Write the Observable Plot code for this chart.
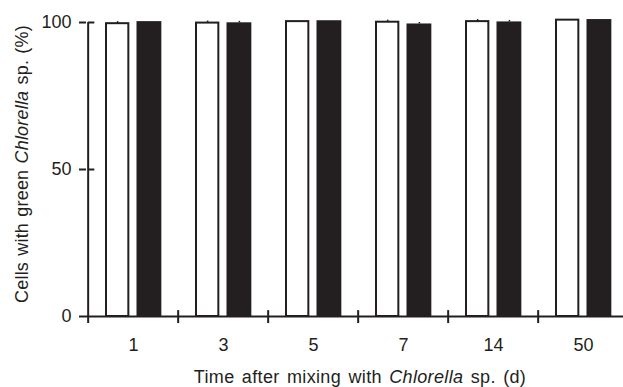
<!DOCTYPE html>
<html>
<head>
<meta charset="utf-8">
<script src="https://cdn.jsdelivr.net/npm/d3@7"></script>
<script src="https://cdn.jsdelivr.net/npm/@observablehq/plot@0.6"></script>
<style>
  html, body { margin: 0; padding: 0; background: #fff; overflow: hidden; }
  #chart svg { display: block; }
</style>
</head>
<body>
<div id="chart"></div>
<script>
// Time after mixing (days)
const days = ["1", "3", "5", "7", "14", "50"];
// Open bars (series 1) and filled bars (series 2), % cells with green Chlorella sp.
const openVals = [99.6, 99.8, 100.3, 100.1, 100.3, 100.8];
const openErr  = [0.7, 0.7, 0, 0.7, 0.7, 0];
const filledVals = [100.3, 99.9, 100.6, 99.5, 100.2, 101.0];
const filledErr  = [0, 0.5, 0, 0.5, 0.5, 0];
const yTicks = [0, 50, 100];
const xTitle = ["Time after mixing with ", "Chlorella", " sp. (d)"];
const yTitle = ["Cells with green ", "Chlorella", " sp. (%)"];

const open = days.map((d, i) => ({day: d, v: openVals[i], e: openErr[i]}));
const filled = days.map((d, i) => ({day: d, v: filledVals[i], e: filledErr[i]}));
const ink = "#231f20";
const W = 623, H = 387;
const step = (630 - 86) / days.length;

const plot = Plot.plot({
  width: W,
  height: H,
  marginLeft: 86,
  marginRight: 0,
  marginTop: 22,
  marginBottom: 71,
  style: {fontFamily: "'Liberation Sans', Arial, Helvetica, sans-serif", fontSize: "18px", color: ink, background: "#fff"},
  x: {domain: days, range: [86, 630], padding: 0, tickSize: 0, tickPadding: 22, label: null},
  y: {domain: [0, 100], range: [316, 22], ticks: yTicks, tickSize: 7, tickPadding: 8, label: null},
  marks: [
    Plot.barY(open, {x: "day", y: "v", fill: "#fff", stroke: ink, strokeWidth: 2, insetLeft: 18, insetRight: step - 41}),
    Plot.barY(filled, {x: "day", y: "v", fill: ink, insetLeft: 48.5, insetRight: step - 74}),
    Plot.ruleX(open.filter(d => d.e > 0), {x: "day", y1: "v", y2: d => d.v + d.e, dx: 29.5 - step / 2, stroke: ink, strokeWidth: 1.5}),
    Plot.ruleX(filled.filter(d => d.e > 0), {x: "day", y1: "v", y2: d => d.v + d.e, dx: 61.25 - step / 2, stroke: ink, strokeWidth: 1.5}),
    // x axis line
    Plot.ruleY([0], {stroke: ink, strokeWidth: 2}),
    // y axis line (left edge of the first band)
    Plot.ruleX([days[0]], {x: d => d, y1: -2.4, y2: 100, dx: -step / 2, stroke: ink, strokeWidth: 2}),
    // group boundary ticks crossing the x axis
    Plot.ruleX(days.slice(1), {x: d => d, y1: -2.4, y2: 2.0, dx: -step / 2, stroke: ink, strokeWidth: 2}),
    // right half of the y ticks crossing the y axis
    Plot.tickY(yTicks.slice(1).map(t => ({t, day: days[0]})), {x: "day", y: "t", insetRight: step - 7, stroke: ink, strokeWidth: 2})
  ]
});

document.getElementById("chart").appendChild(plot);

const svg = d3.select(plot);
svg.selectAll("[aria-label='y-axis tick'] path, [aria-label='y-axis tick'] line").attr("stroke-width", 2);

function title(parts, attrs, spacing, wordSpacing) {
  const t = svg.append("text")
    .attr("fill", ink)
    .attr("font-family", "'Liberation Sans', Arial, Helvetica, sans-serif")
    .attr("font-size", 18)
    .attr("letter-spacing", spacing)
    .attr("word-spacing", wordSpacing)
    .attr("text-anchor", "middle");
  for (const [k, v] of Object.entries(attrs)) t.attr(k, v);
  parts.forEach((p, i) => t.append("tspan").attr("font-style", i === 1 ? "italic" : "normal").text(p));
  return t;
}
title(xTitle, {x: 360, y: 383}, 0.35, 2);
title(yTitle, {transform: "translate(28,164) rotate(-90)"}, 0.2, 1);
</script>
</body>
</html>
